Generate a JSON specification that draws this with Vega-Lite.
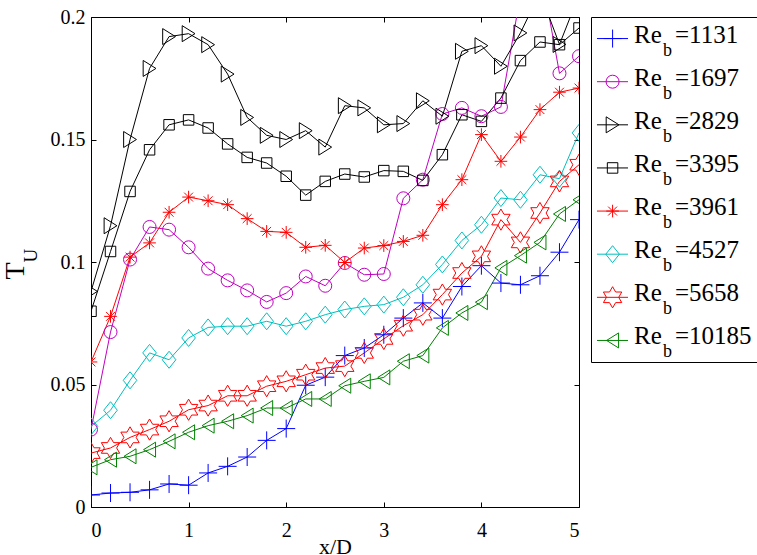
{
  "$schema": "https://vega.github.io/schema/vega-lite/v6.json",
  "background": "white",
  "padding": {"left": 0, "top": 6, "right": 0, "bottom": 0},
  "bounds": "flush",
  "spacing": 12,
  "config": {
    "font": "Liberation Serif",
    "view": {"stroke": "#000", "strokeWidth": 1},
    "axis": {"grid": false, "domain": false, "tickColor": "#000", "tickSize": -5, "tickWidth": 1, "labelFont": "Liberation Serif", "labelFontSize": 20, "labelColor": "#000", "titleFont": "Liberation Serif", "titleFontWeight": "normal", "titleColor": "#000"},
    "text": {"font": "Liberation Serif", "color": "#000"}
  },
  "datasets": {
    "tu": [
      {"s":"1131","x":0,"T":0.0049},{"s":"1131","x":0.2,"T":0.0057},{"s":"1131","x":0.4,"T":0.006},{"s":"1131","x":0.6,"T":0.007},{"s":"1131","x":0.8,"T":0.0094},{"s":"1131","x":1,"T":0.0089},{"s":"1131","x":1.2,"T":0.0139},{"s":"1131","x":1.4,"T":0.0166},{"s":"1131","x":1.6,"T":0.0204},{"s":"1131","x":1.8,"T":0.0272},{"s":"1131","x":2,"T":0.032},{"s":"1131","x":2.2,"T":0.0497},{"s":"1131","x":2.4,"T":0.053},{"s":"1131","x":2.6,"T":0.0618},{"s":"1131","x":2.8,"T":0.0649},{"s":"1131","x":3,"T":0.0703},{"s":"1131","x":3.2,"T":0.0771},{"s":"1131","x":3.4,"T":0.0833},{"s":"1131","x":3.6,"T":0.0771},{"s":"1131","x":3.8,"T":0.09},{"s":"1131","x":4,"T":0.0985},{"s":"1131","x":4.2,"T":0.0914},{"s":"1131","x":4.4,"T":0.0907},{"s":"1131","x":4.6,"T":0.0944},{"s":"1131","x":4.8,"T":0.104},{"s":"1131","x":5,"T":0.1173},
      {"s":"1697","x":0,"T":0.0316},{"s":"1697","x":0.2,"T":0.0714},{"s":"1697","x":0.4,"T":0.101},{"s":"1697","x":0.6,"T":0.1143},{"s":"1697","x":0.8,"T":0.1132},{"s":"1697","x":1,"T":0.106},{"s":"1697","x":1.2,"T":0.0973},{"s":"1697","x":1.4,"T":0.0925},{"s":"1697","x":1.6,"T":0.0884},{"s":"1697","x":1.8,"T":0.0837},{"s":"1697","x":2,"T":0.0873},{"s":"1697","x":2.2,"T":0.0941},{"s":"1697","x":2.4,"T":0.0903},{"s":"1697","x":2.6,"T":0.0996},{"s":"1697","x":2.8,"T":0.0948},{"s":"1697","x":3,"T":0.0951},{"s":"1697","x":3.2,"T":0.126},{"s":"1697","x":3.4,"T":0.1336},{"s":"1697","x":3.6,"T":0.1604},{"s":"1697","x":3.8,"T":0.1629},{"s":"1697","x":4,"T":0.1595},{"s":"1697","x":4.2,"T":0.1633},{"s":"1697","x":4.4,"T":0.209},{"s":"1697","x":4.6,"T":0.221},{"s":"1697","x":4.8,"T":0.177},{"s":"1697","x":5,"T":0.184},
      {"s":"2829","x":0,"T":0.088},{"s":"2829","x":0.2,"T":0.1148},{"s":"2829","x":0.4,"T":0.15},{"s":"2829","x":0.6,"T":0.179},{"s":"2829","x":0.8,"T":0.192},{"s":"2829","x":1,"T":0.1932},{"s":"2829","x":1.2,"T":0.1887},{"s":"2829","x":1.4,"T":0.1767},{"s":"2829","x":1.6,"T":0.159},{"s":"2829","x":1.8,"T":0.1517},{"s":"2829","x":2,"T":0.15},{"s":"2829","x":2.2,"T":0.1536},{"s":"2829","x":2.4,"T":0.1469},{"s":"2829","x":2.6,"T":0.1638},{"s":"2829","x":2.8,"T":0.1629},{"s":"2829","x":3,"T":0.156},{"s":"2829","x":3.2,"T":0.1565},{"s":"2829","x":3.4,"T":0.1658},{"s":"2829","x":3.6,"T":0.1595},{"s":"2829","x":3.8,"T":0.186},{"s":"2829","x":4,"T":0.1883},{"s":"2829","x":4.2,"T":0.1799},{"s":"2829","x":4.4,"T":0.1935},{"s":"2829","x":4.6,"T":0.21},{"s":"2829","x":4.8,"T":0.1888},{"s":"2829","x":5,"T":0.209},
      {"s":"3395","x":0,"T":0.0799},{"s":"3395","x":0.2,"T":0.1043},{"s":"3395","x":0.4,"T":0.1288},{"s":"3395","x":0.6,"T":0.1458},{"s":"3395","x":0.8,"T":0.156},{"s":"3395","x":1,"T":0.158},{"s":"3395","x":1.2,"T":0.1547},{"s":"3395","x":1.4,"T":0.1482},{"s":"3395","x":1.6,"T":0.1427},{"s":"3395","x":1.8,"T":0.1404},{"s":"3395","x":2,"T":0.135},{"s":"3395","x":2.2,"T":0.1273},{"s":"3395","x":2.4,"T":0.1329},{"s":"3395","x":2.6,"T":0.1359},{"s":"3395","x":2.8,"T":0.1347},{"s":"3395","x":3,"T":0.1373},{"s":"3395","x":3.2,"T":0.137},{"s":"3395","x":3.4,"T":0.1333},{"s":"3395","x":3.6,"T":0.1438},{"s":"3395","x":3.8,"T":0.1601},{"s":"3395","x":4,"T":0.1574},{"s":"3395","x":4.2,"T":0.1669},{"s":"3395","x":4.4,"T":0.1822},{"s":"3395","x":4.6,"T":0.1898},{"s":"3395","x":4.8,"T":0.1887},{"s":"3395","x":5,"T":0.1955},
      {"s":"3961","x":0,"T":0.0592},{"s":"3961","x":0.2,"T":0.0778},{"s":"3961","x":0.4,"T":0.102},{"s":"3961","x":0.6,"T":0.1078},{"s":"3961","x":0.8,"T":0.1203},{"s":"3961","x":1,"T":0.1265},{"s":"3961","x":1.2,"T":0.125},{"s":"3961","x":1.4,"T":0.1234},{"s":"3961","x":1.6,"T":0.1177},{"s":"3961","x":1.8,"T":0.1125},{"s":"3961","x":2,"T":0.1121},{"s":"3961","x":2.2,"T":0.106},{"s":"3961","x":2.4,"T":0.1068},{"s":"3961","x":2.6,"T":0.0998},{"s":"3961","x":2.8,"T":0.1057},{"s":"3961","x":3,"T":0.1067},{"s":"3961","x":3.2,"T":0.1084},{"s":"3961","x":3.4,"T":0.1109},{"s":"3961","x":3.6,"T":0.1234},{"s":"3961","x":3.8,"T":0.1336},{"s":"3961","x":4,"T":0.152},{"s":"3961","x":4.2,"T":0.1411},{"s":"3961","x":4.4,"T":0.151},{"s":"3961","x":4.6,"T":0.1622},{"s":"3961","x":4.8,"T":0.1693},{"s":"3961","x":5,"T":0.171},
      {"s":"4527","x":0,"T":0.0329},{"s":"4527","x":0.2,"T":0.0395},{"s":"4527","x":0.4,"T":0.0517},{"s":"4527","x":0.6,"T":0.0629},{"s":"4527","x":0.8,"T":0.0601},{"s":"4527","x":1,"T":0.069},{"s":"4527","x":1.2,"T":0.0733},{"s":"4527","x":1.4,"T":0.0738},{"s":"4527","x":1.6,"T":0.0738},{"s":"4527","x":1.8,"T":0.0758},{"s":"4527","x":2,"T":0.0738},{"s":"4527","x":2.2,"T":0.0758},{"s":"4527","x":2.4,"T":0.0785},{"s":"4527","x":2.6,"T":0.0806},{"s":"4527","x":2.8,"T":0.0819},{"s":"4527","x":3,"T":0.0826},{"s":"4527","x":3.2,"T":0.0856},{"s":"4527","x":3.4,"T":0.0907},{"s":"4527","x":3.6,"T":0.099},{"s":"4527","x":3.8,"T":0.1088},{"s":"4527","x":4,"T":0.1152},{"s":"4527","x":4.2,"T":0.1261},{"s":"4527","x":4.4,"T":0.1254},{"s":"4527","x":4.6,"T":0.1356},{"s":"4527","x":4.8,"T":0.134},{"s":"4527","x":5,"T":0.1527},
      {"s":"5658","x":0,"T":0.022},{"s":"5658","x":0.2,"T":0.0241},{"s":"5658","x":0.4,"T":0.0284},{"s":"5658","x":0.6,"T":0.0316},{"s":"5658","x":0.8,"T":0.035},{"s":"5658","x":1,"T":0.0397},{"s":"5658","x":1.2,"T":0.0414},{"s":"5658","x":1.4,"T":0.0454},{"s":"5658","x":1.6,"T":0.0454},{"s":"5658","x":1.8,"T":0.0493},{"s":"5658","x":2,"T":0.0513},{"s":"5658","x":2.2,"T":0.054},{"s":"5658","x":2.4,"T":0.0567},{"s":"5658","x":2.6,"T":0.0575},{"s":"5658","x":2.8,"T":0.0629},{"s":"5658","x":3,"T":0.0686},{"s":"5658","x":3.2,"T":0.074},{"s":"5658","x":3.4,"T":0.0785},{"s":"5658","x":3.6,"T":0.0867},{"s":"5658","x":3.8,"T":0.0955},{"s":"5658","x":4,"T":0.1023},{"s":"5658","x":4.2,"T":0.1173},{"s":"5658","x":4.4,"T":0.108},{"s":"5658","x":4.6,"T":0.12},{"s":"5658","x":4.8,"T":0.1329},{"s":"5658","x":5,"T":0.1397},
      {"s":"10185","x":0,"T":0.0162},{"s":"10185","x":0.2,"T":0.0193},{"s":"10185","x":0.4,"T":0.0207},{"s":"10185","x":0.6,"T":0.0234},{"s":"10185","x":0.8,"T":0.0268},{"s":"10185","x":1,"T":0.0305},{"s":"10185","x":1.2,"T":0.0332},{"s":"10185","x":1.4,"T":0.035},{"s":"10185","x":1.6,"T":0.0373},{"s":"10185","x":1.8,"T":0.0404},{"s":"10185","x":2,"T":0.0404},{"s":"10185","x":2.2,"T":0.0441},{"s":"10185","x":2.4,"T":0.0441},{"s":"10185","x":2.6,"T":0.0495},{"s":"10185","x":2.8,"T":0.0513},{"s":"10185","x":3,"T":0.0529},{"s":"10185","x":3.2,"T":0.0595},{"s":"10185","x":3.4,"T":0.0618},{"s":"10185","x":3.6,"T":0.0731},{"s":"10185","x":3.8,"T":0.0792},{"s":"10185","x":4,"T":0.0836},{"s":"10185","x":4.2,"T":0.0976},{"s":"10185","x":4.4,"T":0.1026},{"s":"10185","x":4.6,"T":0.108},{"s":"10185","x":4.8,"T":0.1196},{"s":"10185","x":5,"T":0.1254}
    ],
    "leg": [
      {"s":"1131","re":"Re","sub":"b","eq":"=1131"},
      {"s":"1697","re":"Re","sub":"b","eq":"=1697"},
      {"s":"2829","re":"Re","sub":"b","eq":"=2829"},
      {"s":"3395","re":"Re","sub":"b","eq":"=3395"},
      {"s":"3961","re":"Re","sub":"b","eq":"=3961"},
      {"s":"4527","re":"Re","sub":"b","eq":"=4527"},
      {"s":"5658","re":"Re","sub":"b","eq":"=5658"},
      {"s":"10185","re":"Re","sub":"b","eq":"=10185"}
    ]
  },
  "hconcat": [
    {
      "width": 488,
      "height": 490,
      "data": {"name": "tu"},
      "layer": [
        {
          "mark": {"type": "line", "clip": true, "strokeWidth": 1},
          "encoding": {
            "x": {"field": "x", "type": "quantitative", "scale": {"domain": [0, 5], "nice": false}, "axis": {"orient": "bottom", "values": [0, 1, 2, 3, 4, 5], "title": "x/D", "titleFontSize": 22, "labelFont": "Liberation Serif", "labelPadding": 18, "titlePadding": -4}},
            "y": {"field": "T", "type": "quantitative", "scale": {"domain": [0, 0.2], "nice": false, "zero": false}, "axis": {"orient": "left", "values": [0, 0.05, 0.1, 0.15, 0.2], "format": "~g", "labelFont": "Liberation Serif", "title": "T", "titleFontSize": 28, "titleAlign": "right", "labelPadding": 11, "titlePadding": 21}},
            "color": {"field": "s", "type": "nominal", "scale": {"domain": ["1131","1697","2829","3395","3961","4527","5658","10185"], "range": ["#0000FF","#BF00BF","#000000","#000000","#FF0000","#00BFBF","#FF0000","#008000"]}, "legend": null}
          }
        },
        {
          "mark": {"type": "point", "clip": true, "filled": false, "strokeWidth": 1, "opacity": 1},
          "encoding": {
            "x": {"field": "x", "type": "quantitative", "axis": {"orient": "top", "values": [0, 1, 2, 3, 4, 5], "labels": false, "title": null}},
            "y": {"field": "T", "type": "quantitative", "axis": {"orient": "right", "values": [0, 0.05, 0.1, 0.15, 0.2], "labels": false, "title": null}},
            "color": {"field": "s", "type": "nominal", "legend": null},
            "shape": {"field": "s", "type": "nominal", "scale": {"domain": ["1131","1697","2829","3395","3961","4527","5658","10185"], "range": ["M-1,0L1,0M0,-1L0,1", "circle", "M-0.8,-1L0.8,0L-0.8,1Z", "M-1,-1L1,-1L1,1L-1,1Z", "M-1,0L1,0M0,-1L0,1M-0.7,-0.7L0.7,0.7M-0.7,0.7L0.7,-0.7", "M0,-1L0.8,0L0,1L-0.8,0Z", "M0,-1L0.289,-0.5L0.866,-0.5L0.577,0L0.866,0.5L0.289,0.5L0,1L-0.289,0.5L-0.866,0.5L-0.577,0L-0.866,-0.5L-0.289,-0.5Z", "M0.8,-1L-0.8,0L0.8,1Z"]}, "legend": null},
            "size": {"field": "s", "type": "nominal", "scale": {"type": "ordinal", "domain": ["1131","1697","2829","3395","3961","4527","5658","10185"], "range": [324, 169, 256, 110, 160, 289, 450, 225]}, "legend": null}
          }
        },
        {
          "mark": {"type": "rule", "strokeOpacity": 0},
          "encoding": {
            "y": {"datum": 0, "type": "quantitative", "axis": {"orient": "left", "labels": false, "ticks": false, "title": "U", "titleFontSize": 19, "titleAlign": "left", "titlePadding": 51}}
          }
        }
      ],
      "resolve": {"axis": {"x": "independent", "y": "independent"}}
    },
    {
      "width": 166,
      "height": 345,
      "data": {"name": "leg"},
      "encoding": {
        "y": {"field": "s", "type": "nominal", "scale": {"type": "point", "padding": 0.5, "domain": ["1131","1697","2829","3395","3961","4527","5658","10185"]}, "axis": null}
      },
      "layer": [
        {
          "mark": {"type": "rule", "strokeWidth": 1},
          "encoding": {
            "x": {"datum": 0.036, "type": "quantitative", "scale": {"domain": [0, 1], "nice": false}, "axis": null},
            "x2": {"datum": 0.223},
            "color": {"field": "s", "type": "nominal", "legend": null}
          }
        },
        {
          "mark": {"type": "point", "filled": false, "strokeWidth": 1, "opacity": 1},
          "encoding": {
            "x": {"datum": 0.13, "type": "quantitative"},
            "color": {"field": "s", "type": "nominal", "legend": null},
            "shape": {"field": "s", "type": "nominal", "legend": null},
            "size": {"field": "s", "type": "nominal", "scale": {"type": "ordinal", "domain": ["1131","1697","2829","3395","3961","4527","5658","10185"], "range": [324, 169, 256, 110, 160, 289, 450, 225]}, "legend": null}
          }
        },
        {
          "mark": {"type": "text", "align": "left", "baseline": "alphabetic", "dy": 4, "fontSize": 25, "font": "Liberation Serif"},
          "encoding": {"x": {"datum": 0.259, "type": "quantitative"}, "text": {"field": "re"}}
        },
        {
          "mark": {"type": "text", "align": "left", "baseline": "alphabetic", "dx": 29, "dy": 17, "fontSize": 18, "font": "Liberation Serif"},
          "encoding": {"x": {"datum": 0.259, "type": "quantitative"}, "text": {"field": "sub"}}
        },
        {
          "mark": {"type": "text", "align": "left", "baseline": "alphabetic", "dx": 41, "dy": 4, "fontSize": 25, "font": "Liberation Serif"},
          "encoding": {"x": {"datum": 0.259, "type": "quantitative"}, "text": {"field": "eq"}}
        }
      ]
    }
  ]
}
